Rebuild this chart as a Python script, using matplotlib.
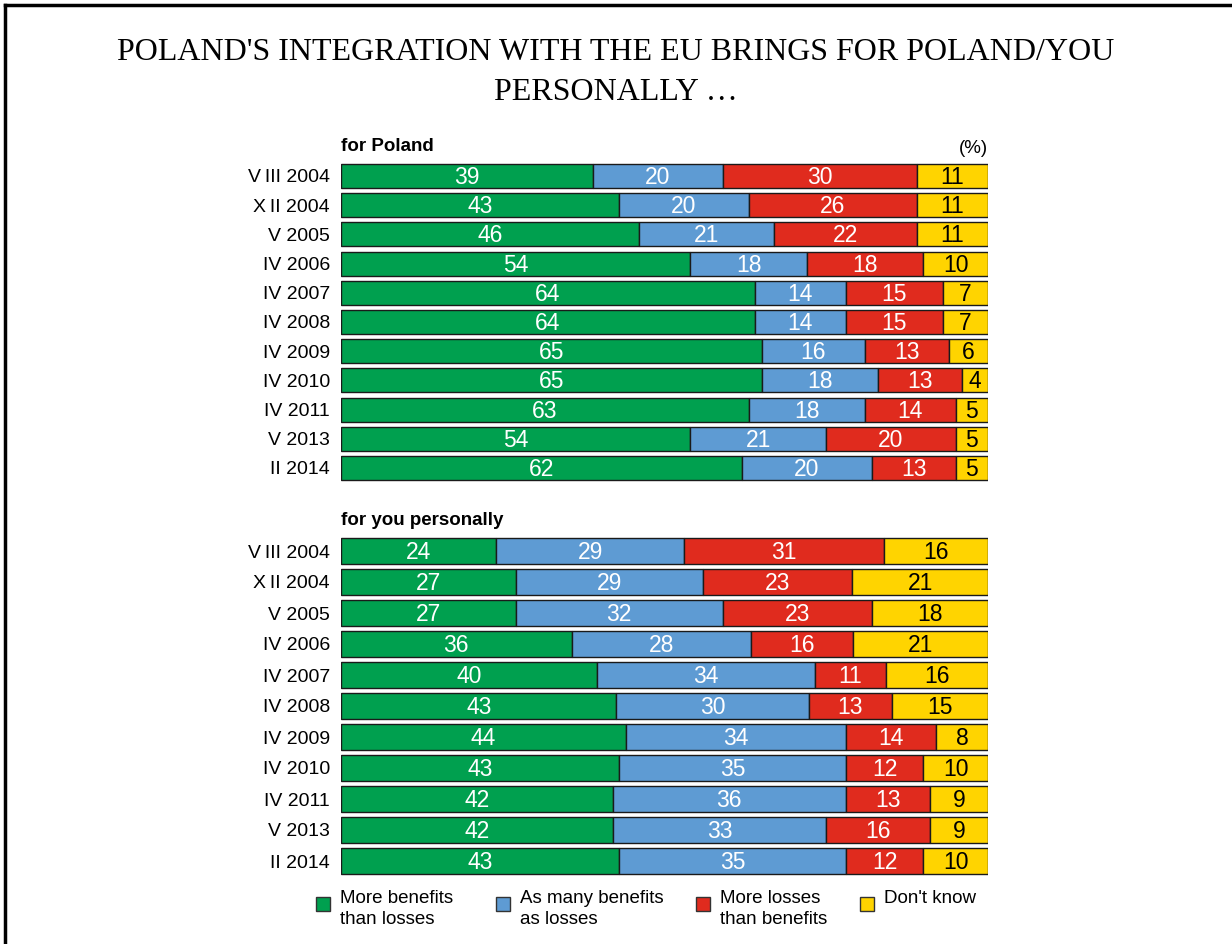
import numpy as np
import matplotlib.pyplot as plt
from matplotlib.patches import Rectangle
from matplotlib.lines import Line2D

plt.rcParams['font.family'] = ['Liberation Sans', 'DejaVu Sans']

ROWS = ['VIII 2004', 'XII 2004', 'V 2005', 'IV 2006', 'IV 2007', 'IV 2008',
        'IV 2009', 'IV 2010', 'IV 2011', 'V 2013', 'II 2014']
ROW_LABELS = ['V\u2009III 2004', 'X\u2009II 2004', 'V 2005', 'IV 2006', 'IV 2007', 'IV 2008',
              'IV 2009', 'IV 2010', 'IV 2011', 'V 2013', 'II 2014']

# for Poland
pl_benefits = [39, 43, 46, 54, 64, 64, 65, 65, 63, 54, 62]
pl_equal    = [20, 20, 21, 18, 14, 14, 16, 18, 18, 21, 20]
pl_losses   = [30, 26, 22, 18, 15, 15, 13, 13, 14, 20, 13]
pl_dontknow = [11, 11, 11, 10, 7, 7, 6, 4, 5, 5, 5]

# for you personally
me_benefits = [24, 27, 27, 36, 40, 43, 44, 43, 42, 42, 43]
me_equal    = [29, 29, 32, 28, 34, 30, 34, 35, 36, 33, 35]
me_losses   = [31, 23, 23, 16, 11, 13, 14, 12, 13, 16, 12]
me_dontknow = [16, 21, 18, 21, 16, 15, 8, 10, 9, 9, 10]

SERIES = ['More benefits\nthan losses', 'As many benefits\nas losses',
          'More losses\nthan benefits', "Don't know"]
COLORS = ['#00A04F', '#5E9BD3', '#E02B1E', '#FFD400']
TXT    = ['white', 'white', 'white', 'black']

fig = plt.figure(figsize=(12.32, 9.44), dpi=100)

# frame (only left and top edges are visible)
fx, fy = 4.5/1232, 1 - 5/944
fig.lines.append(Line2D([fx, fx], [0, fy], transform=fig.transFigure, color='black', lw=2.5))
fig.lines.append(Line2D([fx, 1], [fy, fy], transform=fig.transFigure, color='black', lw=2.5))

fig.text(0.5, 1 - 52/944, "POLAND'S INTEGRATION WITH THE EU BRINGS FOR POLAND/YOU",
         ha='center', va='center', fontsize=23, family=['Liberation Serif'])
fig.text(0.5, 1 - 92/944, "PERSONALLY \u2026",
         ha='center', va='center', fontsize=23, family=['Liberation Serif'])


def panel(rect, data, height, title):
    ax = fig.add_axes(rect)
    data = np.array(data, dtype=float)
    totals = data.sum(axis=0)
    y = np.arange(len(ROWS))
    left = np.zeros(len(ROWS))
    for i, vals in enumerate(data):
        w = vals / totals * 100
        ax.barh(y, w, left=left, height=height, color=COLORS[i],
                edgecolor='#1a1a1a', linewidth=1)
        for yy, l, ww, v in zip(y, left, w, vals):
            ax.text(l + ww / 2, yy + 0.05, f'{int(v)}', ha='center', va='center',
                    color=TXT[i], fontsize=16.5)
        left += w
    ax.set_xlim(0, 100)
    ax.set_ylim(len(ROWS) - 0.5, -0.5)
    ax.set_yticks(y)
    ax.set_yticklabels(ROW_LABELS, fontsize=14)
    ax.tick_params(axis='y', length=0, pad=8)
    ax.set_xticks([])
    for s in ax.spines.values():
        s.set_visible(False)
    ax.text(0.0, -0.72, title, transform=ax.get_yaxis_transform(), fontsize=13.5,
            fontweight='bold', ha='left', va='bottom')
    return ax


ax1 = panel([341/1232, 1 - 482.6/944, 647/1232, 321.2/944],
            [pl_benefits, pl_equal, pl_losses, pl_dontknow], 0.82, 'for Poland')
ax1.text(1.0, -0.66, '(%)', transform=ax1.get_yaxis_transform(), fontsize=13.5,
         ha='right', va='bottom')

ax2 = panel([341/1232, 1 - 876.5/944, 647/1232, 341/944],
            [me_benefits, me_equal, me_losses, me_dontknow], 0.84, 'for you personally')

# legend
leg_x = [316, 496, 696, 860]
for x, lab, c in zip(leg_x, SERIES, COLORS):
    fig.patches.append(Rectangle((x/1232, 1 - 911/944), 14/1232, 14/944,
                                 transform=fig.transFigure, facecolor=c,
                                 edgecolor='#333333', linewidth=1))
    fig.text((x + 24)/1232, 1 - 890/944, lab, ha='left', va='top',
             fontsize=13.5, linespacing=1.3)

fig.savefig('out.png', dpi=100)
